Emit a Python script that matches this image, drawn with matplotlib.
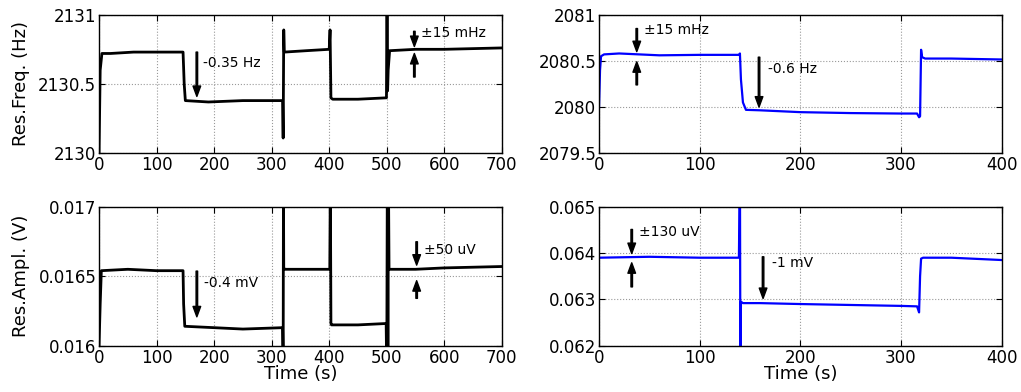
import numpy as np
import matplotlib
matplotlib.use('Agg')
import matplotlib.pyplot as plt

# 데이터
freq1_t = [0, 2, 5, 20, 60, 100, 146, 148, 150, 190, 250, 319, 320, 321, 322, 360, 400, 401.5, 403, 406, 450, 499.5, 500.5, 501.5, 502.5, 505, 550, 600, 700]
freq1_v = [2130.0, 2130.6, 2130.72, 2130.72, 2130.73, 2130.73, 2130.73, 2130.5, 2130.38, 2130.37, 2130.38, 2130.38, 2130.11, 2130.89, 2130.73, 2130.74, 2130.75, 2130.89, 2130.40, 2130.39, 2130.39, 2130.40, 2131.3, 2130.45, 2130.6, 2130.74, 2130.75, 2130.75, 2130.76]

freq2_t = [0, 1, 2, 5, 20, 60, 100, 139, 140, 141, 143, 146, 160, 200, 250, 300, 316, 318, 319, 320, 321, 324, 350, 400]
freq2_v = [2080.0, 2080.4, 2080.55, 2080.57, 2080.58, 2080.56, 2080.565, 2080.565, 2080.58, 2080.3, 2080.05, 2079.97, 2079.965, 2079.945, 2079.935, 2079.93, 2079.93, 2079.89, 2079.9, 2080.62, 2080.54, 2080.525, 2080.525, 2080.515]

amp1_t = [0, 2, 4, 50, 100, 146, 147, 149, 200, 250, 319, 320, 320.5, 321, 323, 360, 401, 402, 403, 404, 450, 499, 500, 501, 502, 503, 504, 550, 600, 700]
amp1_v = [0.0160, 0.0163, 0.01654, 0.01655, 0.01654, 0.01654, 0.0163, 0.01614, 0.01613, 0.01612, 0.01613, 0.0158, 0.0172, 0.01656, 0.01655, 0.01655, 0.01655, 0.0172, 0.01616, 0.01615, 0.01615, 0.01616, 0.0158, 0.0172, 0.0158, 0.0172, 0.01655, 0.01655, 0.01656, 0.01657]

amp2_t = [0, 50, 100, 139, 140, 140.5, 141, 143, 160, 200, 250, 300, 316, 318, 319, 320, 322, 350, 400]
amp2_v = [0.06390, 0.06392, 0.06390, 0.06390, 0.0660, 0.0610, 0.06295, 0.06292, 0.06292, 0.06290, 0.06288, 0.06286, 0.06285, 0.06272, 0.0635, 0.06388, 0.06390, 0.06390, 0.06385]

xt_700 = [0, 100, 200, 300, 400, 500, 600, 700]
xt_400 = [0, 100, 200, 300, 400]
yt_f1 = [2130, 2130.5, 2131]
yt_f1_lbl = ['2130', '2130.5', '2131']
yt_f2 = [2079.5, 2080, 2080.5, 2081]
yt_f2_lbl = ['2079.5', '2080', '2080.5', '2081']
yt_a1 = [0.016, 0.0165, 0.017]
yt_a1_lbl = ['0.016', '0.0165', '0.017']
yt_a2 = [0.062, 0.063, 0.064, 0.065]
yt_a2_lbl = ['0.062', '0.063', '0.064', '0.065']

plt.rcParams['font.family'] = 'DejaVu Sans'

fig = plt.figure(figsize=(10.21, 3.92), dpi=100)
ax1 = fig.add_axes([0.097, 0.609, 0.3945, 0.3536])
ax2 = fig.add_axes([0.5867, 0.609, 0.3943, 0.3536])
ax3 = fig.add_axes([0.097, 0.118, 0.3945, 0.3546])
ax4 = fig.add_axes([0.5867, 0.118, 0.3943, 0.3546])

def style(ax, xt, yt, ylbl, xmax):
    ax.set_xlim(0, xmax)
    ax.set_xticks(xt)
    ax.set_yticks(yt)
    ax.set_yticklabels(ylbl)
    ax.set_ylim(yt[0], yt[-1])
    ax.grid(True, color='0.6', linestyle=':', linewidth=0.8)
    ax.tick_params(direction='in', top=True, right=True, labelsize=12, length=4)
    ax.tick_params(axis='x', pad=2)
    ax.tick_params(axis='y', pad=2)
    for s in ax.spines.values():
        s.set_linewidth(1.0)

def arrow(ax, x, y0, y1):
    # y0 = 꼬리, y1 = 머리
    ax.annotate('', xy=(x, y1), xytext=(x, y0),
                arrowprops=dict(facecolor='black', edgecolor='black', width=1.1,
                                headwidth=5.5, headlength=7.5, shrink=0))

ax1.plot(freq1_t, freq1_v, color='k', lw=2)
style(ax1, xt_700, yt_f1, yt_f1_lbl, 700)
ax1.set_ylabel('Res.Freq. (Hz)', fontsize=13, labelpad=6)
arrow(ax1, 170, 2130.73, 2130.41)
ax1.text(181, 2130.65, '-0.35 Hz', fontsize=10, va='center')
arrow(ax1, 548, 2130.88, 2130.77)
arrow(ax1, 548, 2130.55, 2130.72)
ax1.text(560, 2130.87, '±15 mHz', fontsize=10, va='center')

ax2.plot(freq2_t, freq2_v, color='#0000ff', lw=1.6)
style(ax2, xt_400, yt_f2, yt_f2_lbl, 400)
arrow(ax2, 37.5, 2080.85, 2080.60)
arrow(ax2, 37.5, 2080.24, 2080.49)
ax2.text(45, 2080.83, '±15 mHz', fontsize=10, va='center')
arrow(ax2, 159, 2080.54, 2080.0)
ax2.text(168, 2080.41, '-0.6 Hz', fontsize=10, va='center')

ax3.plot(amp1_t, amp1_v, color='k', lw=2)
style(ax3, xt_700, yt_a1, yt_a1_lbl, 700)
ax3.set_ylabel('Res.Ampl. (V)', fontsize=13, labelpad=6)
ax3.set_xlabel('Time (s)', fontsize=13, labelpad=-1)
arrow(ax3, 170, 0.016537, 0.016208)
ax3.text(182, 0.016453, '-0.4 mV', fontsize=10, va='center')
arrow(ax3, 552, 0.016748, 0.01658)
arrow(ax3, 552, 0.016341, 0.016468)
ax3.text(564, 0.016688, '±50 uV', fontsize=10, va='center')

ax4.plot(amp2_t, amp2_v, color='#0000ff', lw=1.6)
style(ax4, xt_400, yt_a2, yt_a2_lbl, 400)
ax4.set_xlabel('Time (s)', fontsize=13, labelpad=-1)
arrow(ax4, 32.5, 0.06451, 0.06399)
arrow(ax4, 32.5, 0.06327, 0.06379)
ax4.text(40, 0.06446, '±130 uV', fontsize=10, va='center')
arrow(ax4, 163, 0.06392, 0.06302)
ax4.text(171.5, 0.06378, '-1 mV', fontsize=10, va='center')

fig.savefig('out.png', dpi=100)
